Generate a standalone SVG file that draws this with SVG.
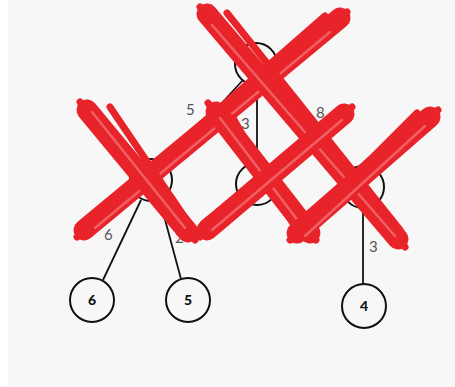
<svg xmlns="http://www.w3.org/2000/svg" width="455" height="387" viewBox="0 0 455 387">
<style>
.node{fill:none;stroke:#111;stroke-width:2}
.edge{stroke:#111;stroke-width:1.8;fill:none}
.el{font-family:Lato,"Liberation Sans",sans-serif;font-size:15px;fill:#555}
.nl{font-family:Lato,"Liberation Sans",sans-serif;font-size:14px;font-weight:900;fill:#111;text-anchor:middle}
.r{stroke:#e8232a;stroke-linecap:round;fill:none}
.m{stroke-width:21}
.t{stroke-width:7}
.h{stroke-width:2.5;stroke:#f27a7d;opacity:0.7}
</style>
<rect width="455" height="387" fill="#ffffff"/>
<rect x="8" y="0" width="447" height="387" fill="#f7f7f7"/>
<g id="connectors">
<line class="edge" x1="243" y1="80" x2="165" y2="165"/>
<line class="edge" x1="257" y1="85" x2="257" y2="163"/>
<line class="edge" x1="270" y1="80" x2="349" y2="171"/>
<line class="edge" x1="141" y1="200" x2="103" y2="280"/>
<line class="edge" x1="160" y1="201" x2="181" y2="279"/>
<line class="edge" x1="363" y1="208" x2="363" y2="284"/>
<text class="el" x="186" y="115">5</text>
<text class="el" x="241" y="129">3</text>
<text class="el" x="316" y="118">8</text>
<text class="el" x="104" y="240">6</text>
<text class="el" x="175" y="243">2</text>
<text class="el" x="369" y="252">3</text>
</g>
<g id="n-root"><circle class="node" cx="256" cy="64" r="21"/></g>
<g id="n-left"><circle class="node" cx="151" cy="180" r="21"/></g>
<g id="n-mid"><circle class="node" cx="257" cy="184" r="21"/></g>
<g id="n-right"><circle class="node" cx="363" cy="187" r="21"/></g>
<g id="n-6"><circle class="node" cx="92" cy="300" r="22"/><text class="nl" x="92" y="305">6</text></g>
<g id="n-5"><circle class="node" cx="188" cy="300" r="22"/><text class="nl" x="188" y="305">5</text></g>
<g id="n-4"><circle class="node" cx="364" cy="306" r="22"/><text class="nl" x="364" y="311">4</text></g>
<g id="cross-marks">
<line class="r m" x1="84" y1="230" x2="340" y2="18"/>
<line class="r t" x1="77" y1="237" x2="347" y2="12"/>
<line class="r t" x1="85" y1="226" x2="325" y2="16"/>
<line class="r h" x1="95" y1="228" x2="330" y2="32"/>
<line class="r m" x1="207" y1="14" x2="398" y2="239"/>
<line class="r t" x1="200" y1="7" x2="405" y2="247"/>
<line class="r t" x1="227" y1="13" x2="400" y2="230"/>
<line class="r h" x1="212" y1="25" x2="395" y2="236"/>
<line class="r m" x1="87" y1="110" x2="188" y2="232"/>
<line class="r t" x1="80" y1="102" x2="195" y2="240"/>
<line class="r t" x1="110" y1="107" x2="190" y2="225"/>
<line class="r h" x1="92" y1="112" x2="185" y2="228"/>
<line class="r m" x1="216" y1="112" x2="310" y2="233"/>
<line class="r t" x1="208" y1="103" x2="316" y2="240"/>
<line class="r t" x1="233" y1="118" x2="300" y2="236"/>
<line class="r h" x1="220" y1="118" x2="305" y2="230"/>
<line class="r m" x1="207" y1="230" x2="344" y2="114"/>
<line class="r t" x1="200" y1="237" x2="352" y2="107"/>
<line class="r t" x1="204" y1="223" x2="340" y2="115"/>
<line class="r h" x1="212" y1="230" x2="342" y2="120"/>
<line class="r m" x1="297" y1="233" x2="430" y2="117"/>
<line class="r t" x1="290" y1="240" x2="438" y2="110"/>
<line class="r t" x1="300" y1="230" x2="417" y2="113"/>
<line class="r h" x1="305" y1="236" x2="425" y2="126"/>
</g>
</svg>
